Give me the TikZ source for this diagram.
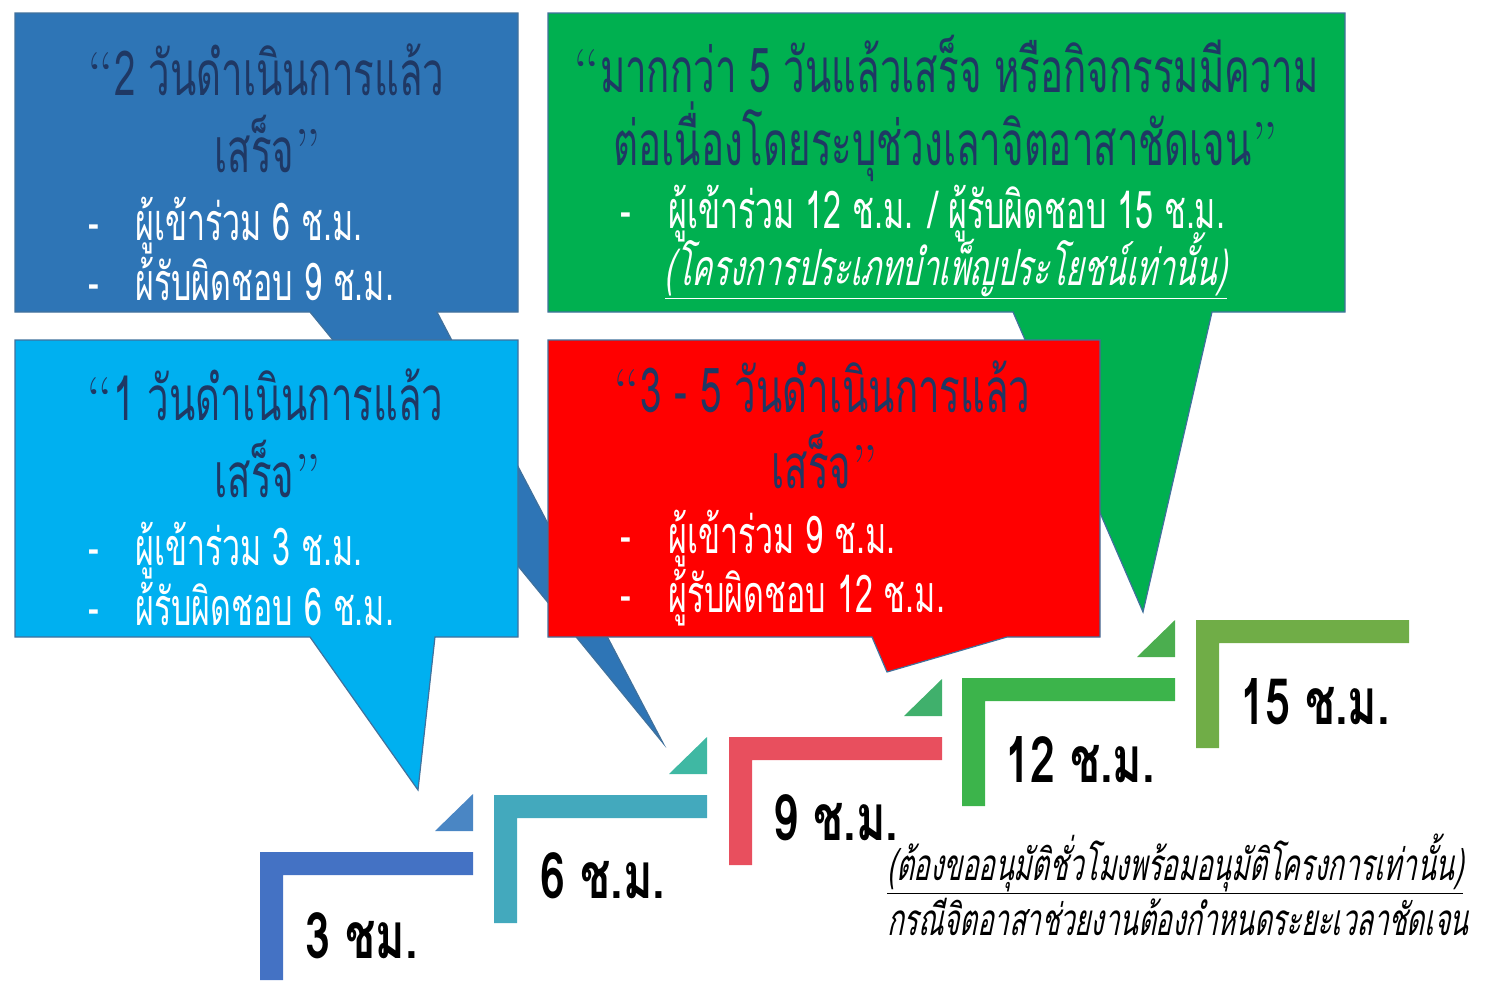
\documentclass[tikz,border=0pt]{standalone}
\usepackage{fontspec}
\usepackage{xcolor}
\newfontfamily\thaifont[Script=Thai,FakeStretch=0.62]{Loma}
\newfontfamily\thaiwidefont[Script=Thai,FakeStretch=0.7]{Loma}
\newfontfamily\thaiitfont[Script=Thai,FakeStretch=0.62,FakeSlant=0.2]{Loma}
\newcommand{\openq}{{\rmfamily “}}
\newcommand{\closeq}{{\rmfamily ”}}

\definecolor{boxblue}{HTML}{2E75B6}
\definecolor{boxgreen}{HTML}{00B050}
\definecolor{boxcyan}{HTML}{00B0F0}
\definecolor{boxred}{HTML}{FF0000}
\definecolor{navy}{HTML}{1F3864}
\definecolor{rim}{HTML}{41719C}
\definecolor{stepa}{HTML}{4472C4}
\definecolor{stepb}{HTML}{43A9BD}
\definecolor{stepc}{HTML}{E84F5E}
\definecolor{stepd}{HTML}{3CB44B}
\definecolor{stepe}{HTML}{70AD47}
\definecolor{tria}{HTML}{4A86C4}
\definecolor{trib}{HTML}{3FB8A3}
\definecolor{tric}{HTML}{40B06C}
\definecolor{trid}{HTML}{4BAE4F}

\tikzset{
    bubble/.style={draw=rim, line width=1.2pt},
    title/.style={text=navy, anchor=base, inner sep=0pt,
        font=\thaifont\fontsize{62}{62}\selectfont},
    bullet/.style={text=white, anchor=base west, inner sep=0pt,
        font=\thaifont\fontsize{52}{52}\selectfont},
    hours/.style={anchor=base west, inner sep=0pt,
        font=\thaiwidefont\bfseries\fontsize{64}{64}\selectfont},
    note/.style={anchor=base west, inner sep=0pt,
        font=\thaiitfont\fontsize{44}{44}\selectfont},
}

\begin{document}
\begin{tikzpicture}[x=1pt, y=-1pt]
    \useasboundingbox (0,0) rectangle (1494,993);

    % speech bubbles
    \filldraw [bubble, fill=boxblue] (15,13) -- (518,13) -- (518,312) -- (437,312)
        -- (663,743) -- (310,312) -- (15,312) -- cycle;
    \filldraw [bubble, fill=boxgreen] (548,13) -- (1345,13) -- (1345,312) -- (1212,312)
        -- (1143,612) -- (1013,312) -- (548,312) -- cycle;
    \filldraw [bubble, fill=boxcyan] (15,340) -- (518,340) -- (518,637) -- (435,637)
        -- (418,790) -- (310,637) -- (15,637) -- cycle;
    \filldraw [bubble, fill=boxred] (548,340) -- (1100,340) -- (1100,637) -- (1007,637)
        -- (887,672) -- (872,637) -- (548,637) -- cycle;

    \node [title] (twoday) at (266,95) {\openq 2 วันดำเนินการแล้ว};
    \node [title] (twodayend) at (268,172) {เสร็จ\closeq};
    \node [bullet] (twodaya) at (88,240) {\makebox[47pt][l]{-}ผู้เข้าร่วม 6 ช.ม.};
    \node [bullet] (twodayb) at (88,300) {\makebox[47pt][l]{-}ผ้รับผิดชอบ 9 ช.ม.};

    \node [title] (manyday) at (946,92) {\openq มากกว่า 5 วันแล้วเสร็จ หรือกิจกรรมมีความ};
    \node [title] (manydayend) at (946,165) {ต่อเนื่องโดยระบุช่วงเลาจิตอาสาชัดเจน\closeq};
    \node [bullet] (manydaya) at (620,228) {\makebox[48pt][l]{-}ผู้เข้าร่วม 12 ช.ม. / ผู้รับผิดชอบ 15 ช.ม.};
    \node [bullet, anchor=base, font=\thaiitfont\fontsize{50}{50}\selectfont] (manydayb) at (946,285)
        {\underline{(โครงการประเภทบำเพ็ญประโยชน์เท่านั้น)}};

    \node [title] (oneday) at (265,420) {\openq 1 วันดำเนินการแล้ว};
    \node [title] (onedayend) at (268,497) {เสร็จ\closeq};
    \node [bullet] (onedaya) at (88,565) {\makebox[47pt][l]{-}ผู้เข้าร่วม 3 ช.ม.};
    \node [bullet] (onedayb) at (88,625) {\makebox[47pt][l]{-}ผ้รับผิดชอบ 6 ช.ม.};

    \node [title] (fewday) at (822,412) {\openq 3 - 5 วันดำเนินการแล้ว};
    \node [title] (fewdayend) at (825,488) {เสร็จ\closeq};
    \node [bullet] (fewdaya) at (620,553) {\makebox[48pt][l]{-}ผู้เข้าร่วม 9 ช.ม.};
    \node [bullet] (fewdayb) at (620,612) {\makebox[48pt][l]{-}ผู้รับผิดชอบ 12 ช.ม.};

    % steps
    \foreach \x/\y/\c in {260/852/stepa, 494/795/stepb, 729/737/stepc, 962/678/stepd, 1196/620/stepe}
        \fill [\c] (\x,\y) -- ++(213,0) -- ++(0,23) -- ++(-190,0) -- ++(0,105) -- ++(-23,0) -- cycle;
    \foreach \x/\y/\c in {260/852/tria, 494/795/trib, 729/737/tric, 962/678/trid}
        \fill [\c] (\x+175,\y-21) -- (\x+213,\y-21) -- (\x+213,\y-58) -- cycle;

    \node [hours] (hthree) at (305,958) {3 ชม.};
    \node [hours] (hsix) at (540,898) {6 ช.ม.};
    \node [hours] (hnine) at (773,840) {9 ช.ม.};
    \node [hours] (htwelve) at (1005,782) {12 ช.ม.};
    \node [hours] (hfifteen) at (1240,724) {15 ช.ม.};

    \node [note] (notea) at (887,880) {\underline{(ต้องขออนุมัติชั่วโมงพร้อมอนุมัติโครงการเท่านั้น)}};
    \node [note] (noteb) at (887,935) {กรณีจิตอาสาช่วยงานต้องกำหนดระยะเวลาชัดเจน};
\end{tikzpicture}
\end{document}
